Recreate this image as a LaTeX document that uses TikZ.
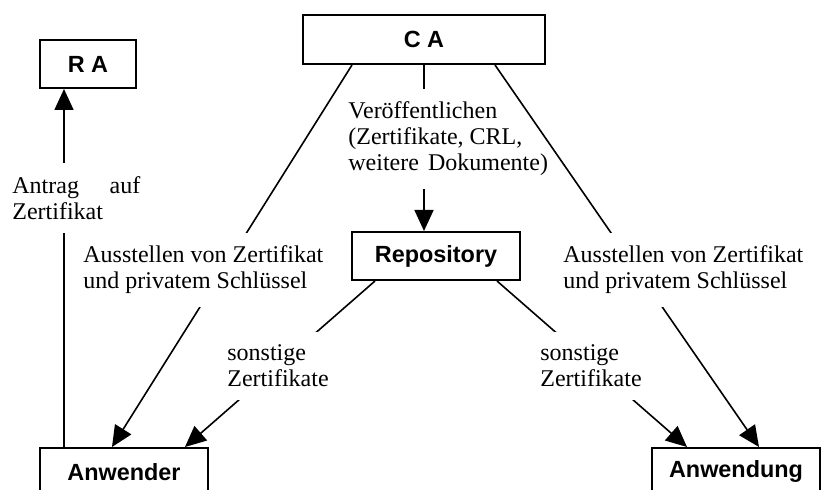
\documentclass[tikz,border=0pt]{standalone}
\usepackage{fontspec}
\setmainfont{Liberation Serif}
\setsansfont{Liberation Sans}
\usepackage{tikz}
\usetikzlibrary{arrows.meta, positioning, calc}

\begin{document}
\begin{tikzpicture}[x=0.5pt, y=-0.5pt,
    box/.style={draw, line width=1pt, minimum height=24pt, inner sep=0pt, font=\sffamily\bfseries\fontsize{11.7}{13}\selectfont},
    lbl/.style={anchor=west, align=left, inner xsep=2pt, inner ysep=6.5pt, font=\fontsize{12}{13}\selectfont},
    con/.style={line width=0.8pt},
    arr/.style={line width=0.8pt, -{Triangle[length=10.5pt, width=9.5pt]}}]
    \useasboundingbox (0,0) rectangle (823,490);
    \clip (0,0) rectangle (823,490);

    \node[box, minimum width=48pt] (ra) at (88,64) {R A};
    \node[box, minimum width=121pt, minimum height=24.5pt] (ca) at (424,39.5) {C A};
    \node[box, minimum width=84pt] (repo) at (436,256) {Repository};
    \node[box, minimum width=84pt] (anwender) at (124,472) {Anwender};
    \node[box, minimum width=84pt] (anwendung) at (736,472) {Anwendung};

    \draw[arr] ($(anwender.north)+(-60,0)$) -- ($(ra.south)+(-24,0)$);
    \draw[arr] ($(ca.south)+(-72,0)$) -- ($(anwender.north)+(-12,0)$);
    \draw[arr] ($(ca.south)+(71,0)$) -- ($(anwendung.north)+(23,0)$);
    \draw[arr] ($(repo.south)+(-61,0)$) -- ($(anwender.north)+(61,0)$);
    \draw[arr] ($(repo.south)+(61,0)$) -- ($(anwendung.north)+(-49,0)$);

    \node[lbl, fill=white, text width=64pt] (antrag) at (8,198) {\makebox[64pt][l]{Antrag\hfill auf}\\Zertifikat};
    \node[lbl, fill=white] (ausstl) at (79,270) {Ausstellen von Zertifikat\\und privatem Schlüssel};
    \node[lbl, fill=white] (ausstr) at (559,270) {Ausstellen von Zertifikat\\und privatem Schlüssel};
    \node[lbl, fill=white] (sonstl) at (223,366) {sonstige\\Zertifikate};
    \node[lbl, fill=white] (sonstr) at (536,366) {sonstige\\Zertifikate};
    \node[lbl] (pub) at (344,139) {Veröffentlichen\\(Zertifikate, CRL,\\weitere\hspace{1.5pt} Dokumente)};

    \draw[con] (ca.south) -- (ca.south |- pub.north);
    \draw[arr] (ca.south |- pub.south) -- ($(repo.north)+(-12,0)$);
\end{tikzpicture}
\end{document}
